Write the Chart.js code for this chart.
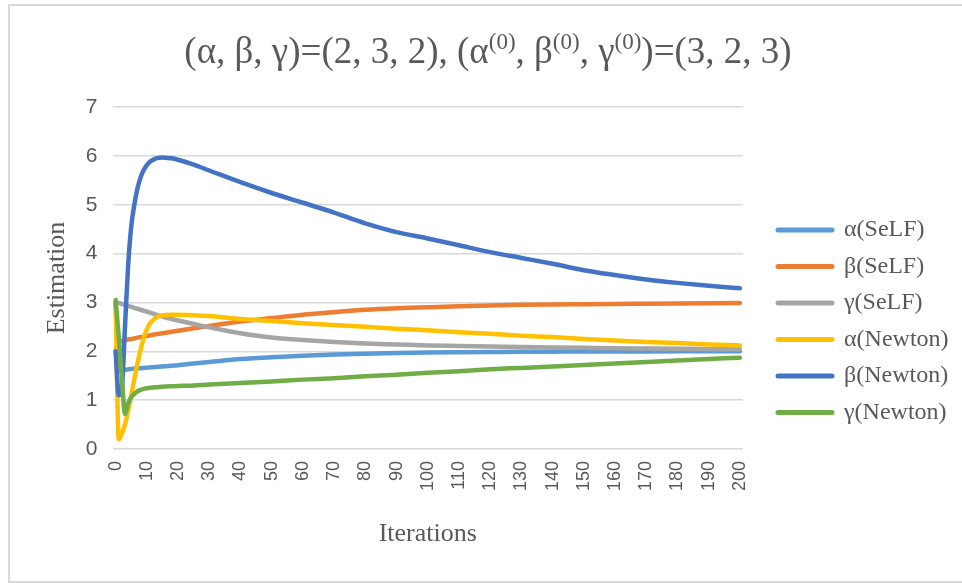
<!DOCTYPE html>
<html>
<head>
<meta charset="utf-8">
<script src="https://cdn.jsdelivr.net/npm/chart.js@4.4.0/dist/chart.umd.min.js"></script>
<style>
  html, body { margin: 0; padding: 0; background: #fff; }
</style>
</head>
<body>
<canvas id="myChart" width="962" height="583"></canvas>
<script>
// iteration numbers (finer near the start)
const iterations = [0,1,2,3,4,5,6,7,8,9,10,11,12,13,14,15,16,18,20,25,30,40,50,60,70,80,90,100,110,120,130,140,150,160,170,180,190,200];

const alphaSeLF = [3.0,1.6,1.61,1.62,1.63,1.64,1.645,1.65,1.655,1.66,1.665,1.67,1.675,1.68,1.685,1.69,1.695,1.705,1.715,1.75,1.78,1.84,1.88,1.91,1.935,1.95,1.965,1.975,1.98,1.985,1.99,1.992,1.995,1.997,1.998,1.999,2.0,2.0];
const betaSeLF = [2.0,2.2,2.21,2.225,2.24,2.25,2.265,2.28,2.29,2.3,2.315,2.325,2.34,2.35,2.36,2.37,2.38,2.4,2.42,2.47,2.52,2.61,2.68,2.75,2.8,2.85,2.88,2.9,2.92,2.935,2.95,2.96,2.965,2.97,2.975,2.98,2.985,2.99];
const gammaSeLF = [3.0,2.99,2.97,2.95,2.93,2.91,2.89,2.87,2.85,2.83,2.81,2.79,2.77,2.75,2.73,2.71,2.69,2.66,2.63,2.56,2.49,2.37,2.28,2.23,2.19,2.16,2.14,2.12,2.11,2.1,2.09,2.08,2.07,2.06,2.055,2.05,2.045,2.04];
const alphaNewton = [3.0,0.2,0.32,0.5,0.78,1.1,1.43,1.75,2.03,2.27,2.45,2.57,2.64,2.69,2.72,2.735,2.745,2.75,2.75,2.74,2.72,2.66,2.62,2.575,2.54,2.5,2.46,2.43,2.39,2.36,2.32,2.29,2.25,2.22,2.19,2.17,2.14,2.12];
const betaNewton = [2.0,1.1,1.25,2.5,3.75,4.55,5.0,5.33,5.56,5.71,5.81,5.88,5.92,5.95,5.96,5.965,5.96,5.95,5.92,5.82,5.7,5.46,5.24,5.04,4.84,4.62,4.44,4.31,4.17,4.03,3.91,3.79,3.66,3.56,3.47,3.4,3.34,3.29];
const gammaNewton = [3.05,2.3,1.45,0.72,0.93,1.06,1.13,1.18,1.21,1.23,1.245,1.255,1.26,1.265,1.27,1.275,1.28,1.285,1.29,1.3,1.32,1.35,1.38,1.42,1.45,1.49,1.52,1.56,1.59,1.63,1.66,1.69,1.72,1.75,1.78,1.81,1.84,1.87];

const seriesNames = ['α(SeLF)', 'β(SeLF)', 'γ(SeLF)', 'α(Newton)', 'β(Newton)', 'γ(Newton)'];
const seriesValues = [alphaSeLF, betaSeLF, gammaSeLF, alphaNewton, betaNewton, gammaNewton];
const seriesColors = ['#5B9BD5', '#ED7D31', '#A5A5A5', '#FFC000', '#4472C4', '#70AD47'];

// title pieces, sup = superscript
const titleParts = [
  {text: '(α, β, γ)=(2, 3, 2), (α', sup: false},
  {text: '(0)', sup: true},
  {text: ', β', sup: false},
  {text: '(0)', sup: true},
  {text: ', γ', sup: false},
  {text: '(0)', sup: true},
  {text: ')=(3, 2, 3)', sup: false}
];

const serif = '"Liberation Serif", "Times New Roman", serif';
const sans = '"Liberation Sans", Arial, sans-serif';
const grey = '#595959';

const bgPlugin = {
  id: 'bg',
  beforeDraw(chart) {
    const ctx = chart.ctx;
    ctx.save();
    ctx.fillStyle = '#fff';
    ctx.fillRect(0, 0, chart.width, chart.height);
    ctx.strokeStyle = '#d9d9d9';
    ctx.lineWidth = 2;
    ctx.beginPath();
    ctx.moveTo(970, 5); ctx.lineTo(9, 5); ctx.lineTo(9, 582); ctx.lineTo(970, 582);
    ctx.stroke();
    ctx.restore();
  }
};

// push the legend column a bit away from the plot
const legendShift = {
  id: 'legendShift',
  afterLayout(chart) {
    chart.legend.left += 22.5;
    chart.legend.right += 22.5;
  }
};

const titlePlugin = {
  id: 'supTitle',
  afterDraw(chart) {
    const ctx = chart.ctx;
    const big = '37px ' + serif;
    const small = '23px ' + serif;
    ctx.save();
    let total = 0;
    titleParts.forEach(p => {
      ctx.font = p.sup ? small : big;
      total += ctx.measureText(p.text).width;
    });
    let x = 488 - total / 2;
    ctx.fillStyle = grey;
    ctx.textBaseline = 'alphabetic';
    titleParts.forEach(p => {
      ctx.font = p.sup ? small : big;
      ctx.fillText(p.text, x, p.sup ? 49 : 63);
      x += ctx.measureText(p.text).width;
    });
    ctx.restore();
  }
};

let myChart = document.getElementById('myChart').getContext('2d');

let estChart = new Chart(myChart, {
  type: 'line',
  data: {
    datasets: seriesNames.map((name, i) => ({
      label: name,
      data: iterations.map((it, k) => ({x: it, y: seriesValues[i][k]})),
      borderColor: seriesColors[i],
      backgroundColor: seriesColors[i],
      borderWidth: 4.5,
      borderCapStyle: 'round',
      borderJoinStyle: 'round',
      pointRadius: 0,
      cubicInterpolationMode: 'monotone',
      order: seriesNames.length - i
    }))
  },
  options: {
    responsive: false,
    animation: false,
    devicePixelRatio: 1,
    layout: { padding: { top: 107, left: 0, right: 0, bottom: 0 } },
    plugins: {
      title: { display: false },
      tooltip: { enabled: false },
      legend: {
        position: 'right',
        align: 'start',
        fullSize: false,
        title: { display: true, text: '', font: { size: 10 }, padding: { top: 0, bottom: 86.5 } },
        labels: {
          usePointStyle: true,
          pointStyle: 'line',
          pointStyleWidth: 54,
          padding: 12.5,
          color: grey,
          font: { family: serif, size: 24 },
          sort: (a, b) => a.datasetIndex - b.datasetIndex,
          generateLabels(chart) {
            const items = Chart.defaults.plugins.legend.labels.generateLabels(chart);
            items.forEach(it => {
              it.lineCap = 'round';
              it.lineWidth = 5;
              it.strokeStyle = seriesColors[it.datasetIndex];
            });
            return items;
          }
        }
      }
    },
    scales: {
      x: {
        type: 'linear',
        min: -1,
        max: 201,
        grid: { display: false, drawTicks: false },
        border: { display: false },
        ticks: {
          stepSize: 10,
          includeBounds: false,
          autoSkip: false,
          minRotation: 90,
          maxRotation: 90,
          padding: 12,
          color: grey,
          font: { family: sans, size: 18 }
        },
        title: {
          display: true,
          text: 'Iterations',
          color: grey,
          font: { family: serif, size: 26 },
          padding: { top: 0, bottom: 33 }
        },
        afterFit(s) { s.height = 134; s.paddingRight = 219; }
      },
      y: {
        min: 0,
        max: 7,
        grid: { color: '#d9d9d9', lineWidth: 1.5, drawTicks: false },
        border: { display: false },
        ticks: {
          stepSize: 1,
          padding: 15,
          color: grey,
          font: { family: '"Liberation Sans Narrow", ' + sans, size: 21 }
        },
        title: {
          display: true,
          text: 'Estimation',
          color: grey,
          font: { family: serif, size: 26 },
          padding: { top: 42, bottom: 0 }
        },
        afterFit(s) { s.width = 112.5; }
      }
    }
  },
  plugins: [bgPlugin, legendShift, titlePlugin]
});
</script>
</body>
</html>
